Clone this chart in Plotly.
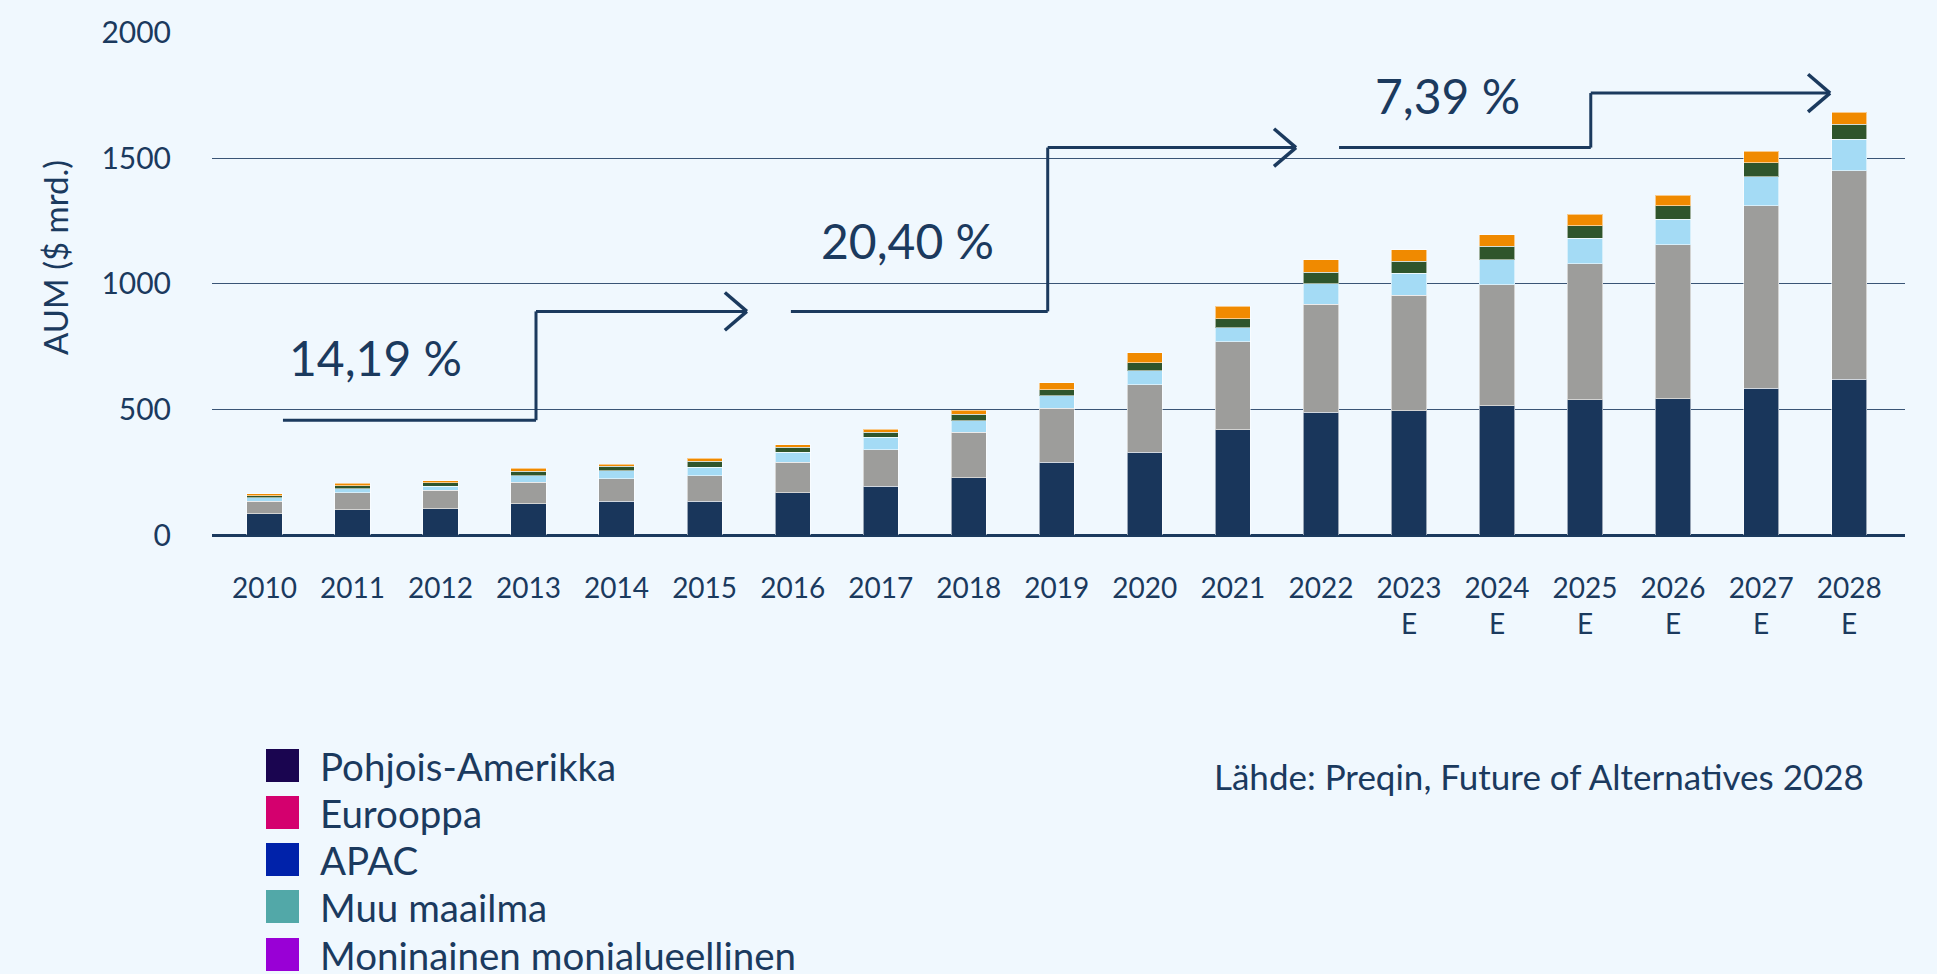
import plotly.graph_objects as go

# ---------------- data ----------------
years = ["2010", "2011", "2012", "2013", "2014", "2015", "2016", "2017", "2018",
         "2019", "2020", "2021", "2022", "2023<br>E", "2024<br>E", "2025<br>E",
         "2026<br>E", "2027<br>E", "2028<br>E"]

north_america = [84, 100, 104, 124, 135, 135, 169, 195, 228, 290, 330, 419, 489, 495, 514, 538, 543, 584, 619]
europe = [51, 69, 75, 86, 88, 100, 121, 144, 181, 214, 269, 350, 430, 460, 482, 542, 612, 727, 831]
apac = [14, 16, 16, 25, 32, 35, 40, 50, 46, 50, 55, 55, 81, 86, 99, 102, 102, 115, 126]
rest_of_world = [7, 12, 13, 18, 19, 24, 20, 19, 25, 25, 32, 36, 46, 48, 55, 49, 54, 55, 58]
multi_regional = [9, 9, 7, 12, 7, 11, 10, 13, 17, 26, 39, 50, 50, 47, 46, 46, 41, 46, 48]

series_names = ["Pohjois-Amerikka", "Eurooppa", "APAC", "Muu maailma", "Moninainen monialueellinen"]
series_values = [north_america, europe, apac, rest_of_world, multi_regional]
bar_colors = ["#19365b", "#9d9d9b", "#a4dbf5", "#2f552c", "#f08a00"]
legend_colors = ["#1a0550", "#d4006e", "#0022aa", "#52a8a8", "#9900d6"]

cagr_labels = ["14,19 %", "20,40 %", "7,39 %"]
cagr_label_pos = [(1.257, 708), (7.305, 1173), (13.44, 1750)]
# step arrows (x in category index, y in AUM units)
arrow_paths = [
    [(0.211, 457), (3.085, 457), (3.085, 890), (5.48, 890)],
    [(5.98, 890), (8.897, 890), (8.897, 1542), (11.717, 1542)],
    [(12.206, 1542), (15.065, 1542), (15.065, 1759), (17.783, 1759)],
]
arrow_heads = [(5.48, 890), (11.717, 1542), (17.783, 1759)]

source_text = "Lähde: Preqin, Future of Alternatives 2028"
y_title = "AUM ($ mrd.)"

# ---------------- figure ----------------
BG = "#f0f8fe"
W, H = 1937, 974
PL, PR, PT, PB = 212, 1905, 32, 535  # plot area in page pixels
L, T, R, B = PL, PT, W - PR, H - PB
PW, PH = PR - PL, PB - PT
navy = "#1b3a5e"
FONT = "Lato"

fig = go.Figure()
for name, vals, col in zip(series_names, series_values, bar_colors):
    fig.add_trace(go.Bar(
        x=years, y=vals, name=name, showlegend=False,
        marker=dict(color=col, line=dict(color="rgba(255,255,255,0.55)", width=1)),
        width=0.4,
    ))

shapes = []
for path in arrow_paths:
    for (xa, ya), (xb, yb) in zip(path[:-1], path[1:]):
        shapes.append(dict(type="line", xref="x", yref="y", x0=xa, y0=ya, x1=xb, y1=yb,
                           line=dict(color=navy, width=3)))
for (xh, yh) in arrow_heads:
    for dy in (75, -75):
        shapes.append(dict(type="line", xref="x", yref="y", x0=xh - 0.25, y0=yh + dy, x1=xh, y1=yh,
                           line=dict(color=navy, width=3.5)))

annotations = []
for txt, (xa, ya) in zip(cagr_labels, cagr_label_pos):
    annotations.append(dict(x=xa, y=ya, xref="x", yref="y", text=txt, showarrow=False,
                            xanchor="center", yanchor="middle",
                            font=dict(family=FONT, size=48, color=navy)))

def px2paper(xp, yp):
    # page pixel -> paper coordinates
    return (xp - PL) / PW, (PB - yp) / PH

# y-axis title
ax_, ay_ = px2paper(55, 258)
annotations.append(dict(x=ax_, y=ay_, xref="paper", yref="paper", text=y_title, showarrow=False,
                        textangle=-90, xanchor="center", yanchor="middle",
                        font=dict(family=FONT, size=33, color=navy)))

# custom legend
legend_y = [765.5, 812.5, 859.5, 906.5, 954.5]
for name, col, yc in zip(series_names, legend_colors, legend_y):
    x0, y0 = px2paper(266, yc + 16.5)
    x1, y1 = px2paper(299, yc - 16.5)
    shapes.append(dict(type="rect", xref="paper", yref="paper", x0=x0, y0=y0, x1=x1, y1=y1,
                       fillcolor=col, line=dict(width=0)))
    tx, ty = px2paper(318, yc)
    annotations.append(dict(x=tx, y=ty, xref="paper", yref="paper", text=name, showarrow=False,
                            xanchor="left", yanchor="middle",
                            font=dict(family=FONT, size=38.5, color=navy)))

# source
sx, sy = px2paper(1866, 776)
annotations.append(dict(x=sx, y=sy, xref="paper", yref="paper", text=source_text, showarrow=False,
                        xanchor="right", yanchor="middle",
                        font=dict(family=FONT, size=35, color=navy)))

fig.update_layout(
    width=W, height=H,
    margin=dict(l=L, r=R, t=T, b=B, pad=0),
    paper_bgcolor=BG, plot_bgcolor=BG,
    barmode="stack",
    font=dict(family=FONT, color=navy),
    shapes=shapes, annotations=annotations,
    showlegend=False,
)
fig.update_xaxes(
    type="category", range=[-0.595, 18.634],
    showgrid=False, showline=False, zeroline=False,
    ticks="", ticklabelstandoff=34,
    tickfont=dict(family=FONT, size=28, color=navy),
    tickangle=0,
)
fig.update_yaxes(
    range=[0, 2002], tickvals=[0, 500, 1000, 1500, 2000],
    ticktext=["0", "500", "1000", "1500", "2000"],
    showgrid=True, gridcolor="#3a5576", gridwidth=1.1,
    zeroline=True, zerolinecolor=navy, zerolinewidth=3,
    showline=False, ticks="", ticklabelstandoff=40,
    tickfont=dict(family=FONT, size=30, color=navy),
)

page_css = ("document.body.style.margin='0';document.body.style.padding='0';"
            "document.body.style.overflow='hidden';"
            "document.body.style.background='" + BG + "';"
            "document.documentElement.style.background='" + BG + "';")
fig.write_html("out.html", post_script=page_css, config={"displayModeBar": False})
